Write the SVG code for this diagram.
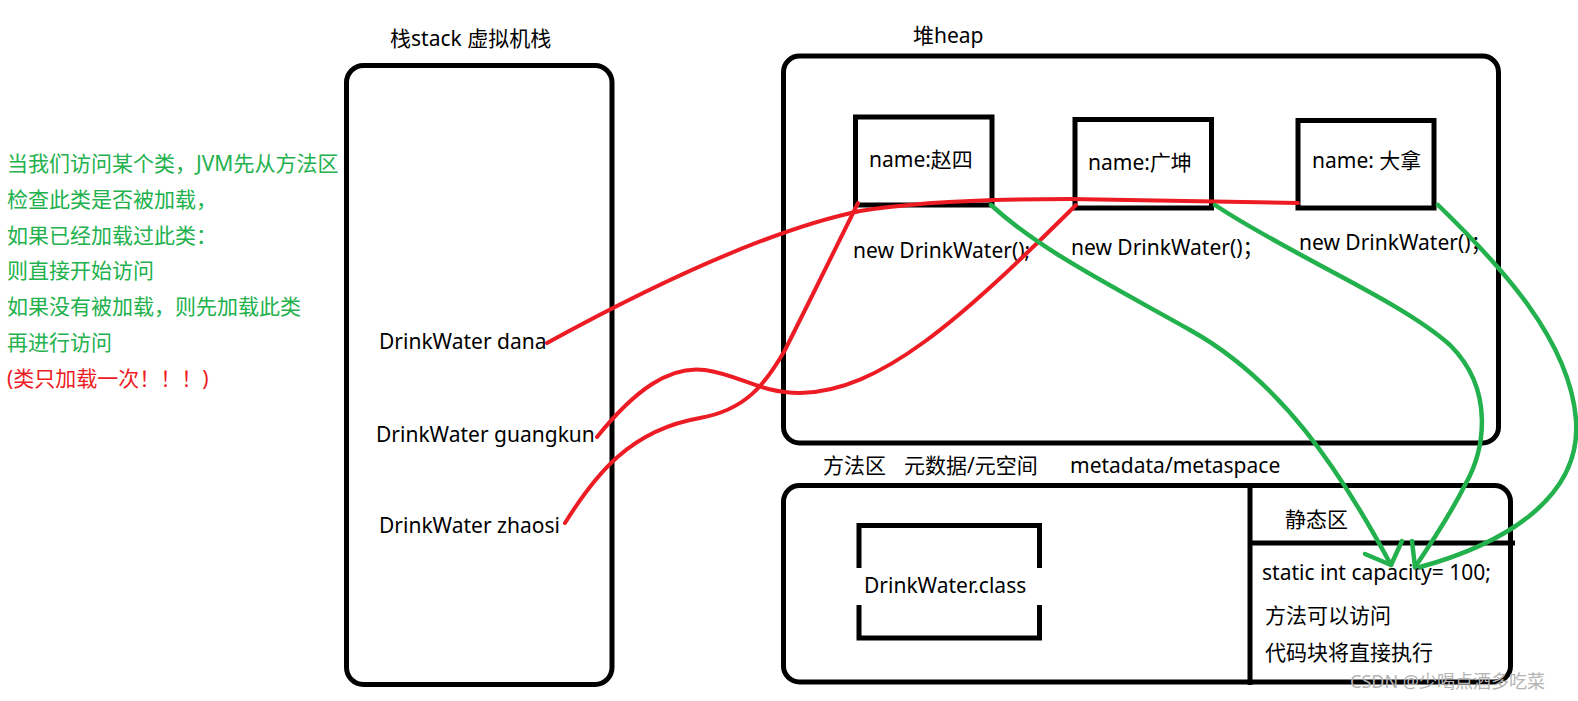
<svg xmlns="http://www.w3.org/2000/svg" width="1578" height="701" viewBox="0 0 1578 701">
<style>
text{font-family:"Noto Sans","Noto Sans CJK SC",sans-serif;font-size:21px;fill:#000}
.box{fill:none;stroke:#000;stroke-width:5}
.note{fill:#22b14c}
.warn{fill:#ed1c24}
.red{fill:none;stroke:#ed1c24;stroke-width:4;stroke-linecap:round;stroke-linejoin:round}
.green{fill:none;stroke:#22b14c;stroke-width:4.5;stroke-linecap:round;stroke-linejoin:round}
.wm{fill:#b4b4b4;font-size:18px}
</style>
<rect width="1578" height="701" fill="#fff"/>

<g id="note">
<text class="note" x="7" y="171">当我们访问某个类，JVM先从方法区</text>
<text class="note" x="7" y="207">检查此类是否被加载，</text>
<text class="note" x="7" y="243">如果已经加载过此类：</text>
<text class="note" x="7" y="278">则直接开始访问</text>
<text class="note" x="7" y="314">如果没有被加载，则先加载此类</text>
<text class="note" x="7" y="350">再进行访问</text>
<text class="warn" x="7" y="386">(类只加载一次！！！)</text>
</g>

<g id="stack">
<text x="390" y="46">栈stack 虚拟机栈</text>
<rect class="box" x="346.5" y="65.5" width="265.5" height="619" rx="17"/>
<text x="379" y="349">DrinkWater dana</text>
<text x="376" y="442">DrinkWater guangkun</text>
<text x="379" y="533">DrinkWater zhaosi</text>
</g>

<g id="heap">
<text x="913" y="43">堆heap</text>
<rect class="box" x="783.5" y="56" width="715" height="387" rx="16"/>
</g>

<g id="obj-zhaosi">
<rect class="box" x="855.5" y="117" width="136.5" height="88"/>
<text x="869" y="167">name:赵四</text>
<text x="853" y="258">new DrinkWater();</text>
</g>

<g id="obj-guangkun">
<rect class="box" x="1075" y="119.5" width="136.5" height="88.5"/>
<text x="1088" y="170">name:广坤</text>
<text x="1071" y="255">new DrinkWater()；</text>
</g>

<g id="obj-dana">
<rect class="box" x="1298" y="120.5" width="136" height="87.5"/>
<text x="1312" y="168">name: 大拿</text>
<text x="1299" y="250">new DrinkWater()；</text>
</g>

<g id="method-area">
<text x="823" y="473">方法区</text>
<text x="904" y="473">元数据/元空间</text>
<text x="1070" y="473" font-size="21.5">metadata/metaspace</text>
<rect class="box" x="783.5" y="485.5" width="727" height="196.5" rx="16"/>
<line x1="1250" y1="485" x2="1250" y2="685" stroke="#000" stroke-width="5"/>
<line x1="1250" y1="543" x2="1515" y2="543" stroke="#000" stroke-width="5"/>
</g>

<g id="class-box">
<rect class="box" x="859" y="525.5" width="180.5" height="112.5"/>
<rect x="855" y="568" width="189" height="37" fill="#fff"/>
<text x="864" y="593" font-size="21.5">DrinkWater.class</text>
</g>

<g id="static-area">
<text x="1285" y="527">静态区</text>
<text x="1262" y="580" font-size="22">static int capacity= 100;</text>
<text x="1265" y="623">方法可以访问</text>
<text x="1265" y="660">代码块将直接执行</text>
</g>

<g id="connectors">
<path class="red" d="M547,343 C640,292 760,232 860,211 C920,201 1000,199 1070,199 L1298,203"/>
<path class="red" d="M597,437 C635,390 670,365 705,370 C740,375 760,393 800,393 C880,392 960,320 1076,205"/>
<path class="red" d="M565,523 C595,475 630,430 700,418 C745,410 765,385 785,350 C810,300 840,240 858,203"/>
<path class="green" d="M991,205 C1040,250 1110,285 1190,330 C1280,380 1340,470 1391,565"/>
<path class="green" d="M1365,554 L1391,565 L1402,541"/>
<path class="green" d="M1215,205 C1290,255 1400,300 1450,345 C1495,390 1485,450 1465,485 C1450,515 1430,545 1415,567"/>
<path class="green" d="M1412,541 L1415,567"/>
<path class="green" d="M1438,205 C1500,265 1570,340 1576,420 C1582,500 1500,545 1420,567"/>
</g>

<text class="wm" x="1350" y="688">CSDN @少喝点酒多吃菜</text>
</svg>
